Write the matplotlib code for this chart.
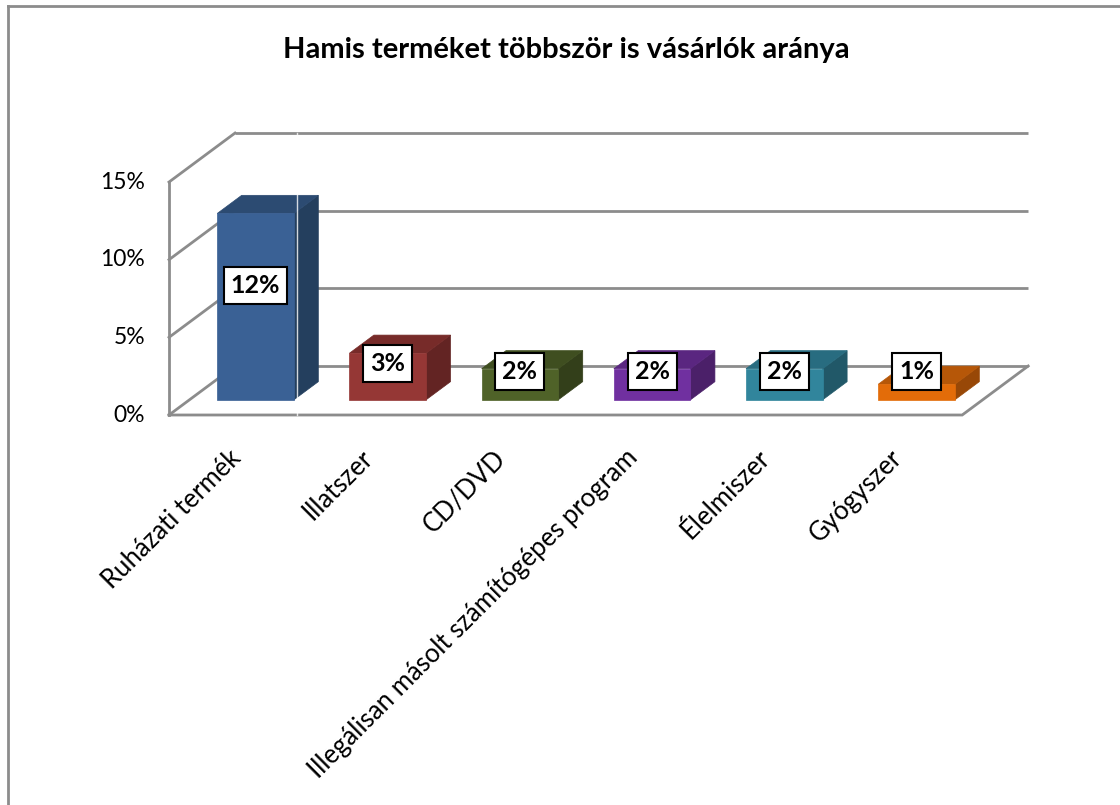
import matplotlib
matplotlib.use("Agg")
import matplotlib.pyplot as plt
from matplotlib.patches import Polygon, Rectangle
from matplotlib.lines import Line2D

# ---- data ----
title = "Hamis terméket többször is vásárlók aránya"
categories = ["Ruházati termék", "Illatszer", "CD/DVD",
              "Illegálisan másolt számítógépes program", "Élelmiszer", "Gyógyszer"]
values = [12, 3, 2, 2, 2, 1]
value_labels = ["12%", "3%", "2%", "2%", "2%", "1%"]
yticks = [0, 5, 10, 15]
ytick_labels = ["0%", "5%", "10%", "15%"]

front_colors = ["#3A6195", "#953735", "#4F6228", "#7030A0", "#31859C", "#E36C09"]
top_colors = ["#2C4B72", "#772B29", "#3F4E20", "#5A2680", "#286C80", "#B65708"]
side_colors = ["#243F5E", "#632423", "#333F1A", "#4B2069", "#215868", "#984807"]

FONT = "Lato"
W, H = 1120, 805
fig = plt.figure(figsize=(W / 100, H / 100), dpi=100)
fig.patch.set_facecolor("white")
ax = fig.add_axes([0, 0, 1, 1])
ax.set_axis_off()

# pixel geometry of the plot (front plane): x0 = left axis, y0 = floor
px_x0, px_cat = 169.0, 132.2
px_y0, px_pct = 415.0, 15.53
ax.set_xlim((0 - px_x0) / px_cat - 0.5, (W - px_x0) / px_cat - 0.5)
ax.set_ylim((px_y0 - H) / px_pct, px_y0 / px_pct)

# depth vector in data units
Dx, Dy = 66 / px_cat, 49 / px_pct
n = len(categories)
xl_, xr_ = -0.5, n - 0.5
ymax = yticks[-1]
grid_c = "#8C8C8C"
glw = 2.0

# back wall gridlines
for v in yticks:
    ax.plot([xl_ + Dx, xr_ + Dx], [v + Dy, v + Dy], color=grid_c, lw=glw,
            solid_capstyle="butt", zorder=1)
    # side wall diagonals
    ax.plot([xl_, xl_ + Dx], [v, v + Dy], color=grid_c, lw=glw, zorder=1)
# front left axis
ax.plot([xl_, xl_], [0, ymax], color=grid_c, lw=glw, zorder=1)
# floor front edge and right edge
ax.plot([xl_, xr_, xr_ + Dx], [0, 0, Dy], color=grid_c, lw=glw, zorder=1,
        solid_joinstyle="miter")

# bars
w = 0.58
f, b = 0.31, 0.68
for i, (v, fc, tc, sc) in enumerate(zip(values, front_colors, top_colors, side_colors)):
    xl = i - w / 2
    xr = i + w / 2
    side = Polygon([(xr + f * Dx, f * Dy), (xr + b * Dx, b * Dy),
                    (xr + b * Dx, v + b * Dy), (xr + f * Dx, v + f * Dy)],
                   closed=True, facecolor=sc, edgecolor=sc, lw=0.5, zorder=3)
    top = Polygon([(xl + f * Dx, v + f * Dy), (xr + f * Dx, v + f * Dy),
                   (xr + b * Dx, v + b * Dy), (xl + b * Dx, v + b * Dy)],
                  closed=True, facecolor=tc, edgecolor=tc, lw=0.5, zorder=3)
    front = Rectangle((xl + f * Dx, f * Dy), w, v, facecolor=fc, edgecolor=fc,
                      lw=0.5, zorder=4)
    for p in (side, top, front):
        ax.add_patch(p)

# faint vertical artifact line
ax.plot([0.468, 0.468], [0, ymax + Dy], color="white", lw=1.0, alpha=0.8, zorder=5)

# value labels
for i, (v, lab) in enumerate(zip(values, value_labels)):
    ly = max(0.56 * v + 1.65, 2.8)
    ax.text(i + f * Dx, ly, lab, ha="center", va="center", fontsize=18,
            fontweight="bold", family=FONT, color="black", zorder=6,
            bbox=dict(boxstyle="square,pad=0.28", facecolor="white",
                      edgecolor="black", lw=1.5))

# y tick labels
for v, lab in zip(yticks, ytick_labels):
    ax.text(xl_ - 24 / px_cat, v, lab, ha="right", va="center", fontsize=16.5,
            family=FONT, color="black")

# category labels
for i, cat in enumerate(categories):
    ax.text(i + 2 / px_cat, -39 / px_pct, cat, rotation=45, rotation_mode="anchor",
            ha="right", va="center", fontsize=18.5, family=FONT, color="black")

# title
fig.text(566 / W, 1 - 50 / H, title, ha="center", va="center", fontsize=21,
         fontweight="bold", family=FONT, color="black")

# outer border (left and top visible)
fig.add_artist(Line2D([8 / W, 8 / W], [-0.01, 1 - 6 / H], transform=fig.transFigure,
                      color="#8C8C8C", lw=2))
fig.add_artist(Line2D([8 / W, 1.01], [1 - 6 / H, 1 - 6 / H], transform=fig.transFigure,
                      color="#8C8C8C", lw=2))

fig.savefig("out.png", dpi=100, facecolor="white")
